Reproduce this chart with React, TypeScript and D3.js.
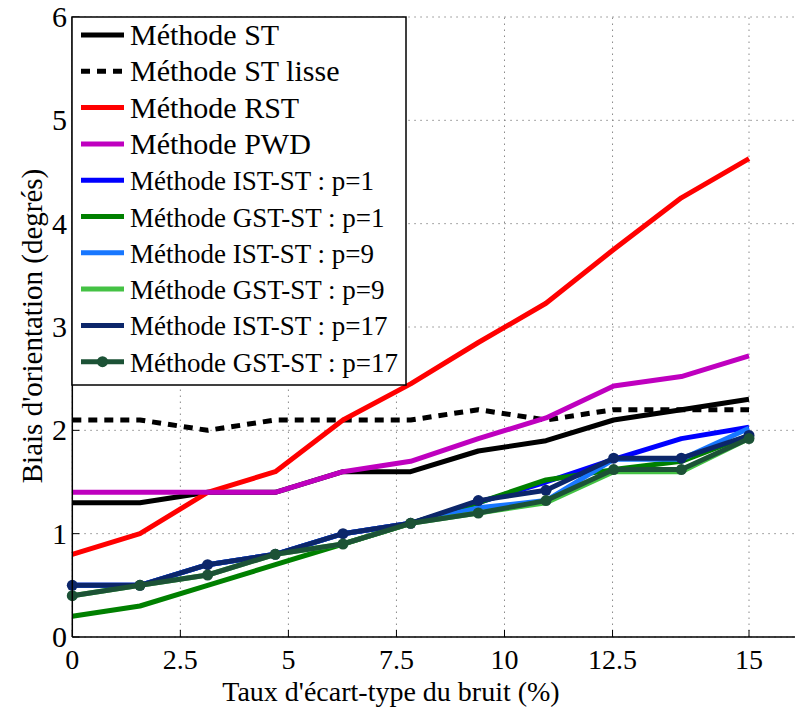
import React from "react";
import * as d3 from "d3";

const noiseLevels = [0, 1.5, 3, 4.5, 6, 7.5, 9, 10.5, 12, 13.5, 15];

const seriesNames = [
  "Méthode ST",
  "Méthode ST lisse",
  "Méthode RST",
  "Méthode PWD",
  "Méthode IST-ST : p=1",
  "Méthode GST-ST : p=1",
  "Méthode IST-ST : p=9",
  "Méthode GST-ST : p=9",
  "Méthode IST-ST : p=17",
  "Méthode GST-ST : p=17",
];

const stValues = [1.3, 1.3, 1.4, 1.4, 1.6, 1.6, 1.8, 1.9, 2.1, 2.2, 2.3];
const stLisseValues = [2.1, 2.1, 2.0, 2.1, 2.1, 2.1, 2.2, 2.1, 2.2, 2.2, 2.2];
const rstValues = [0.8, 1.0, 1.4, 1.6, 2.1, 2.45, 2.85, 3.23, 3.75, 4.25, 4.63];
const pwdValues = [1.4, 1.4, 1.4, 1.4, 1.6, 1.7, 1.92, 2.12, 2.43, 2.52, 2.72];
const istP1Values = [0.5, 0.5, 0.7, 0.8, 1.0, 1.1, 1.3, 1.5, 1.72, 1.92, 2.03];
const gstP1Values = [0.2, 0.3, 0.5, 0.7, 0.9, 1.1, 1.3, 1.52, 1.62, 1.7, 1.95];
const istP9Values = [0.5, 0.5, 0.7, 0.8, 1.0, 1.1, 1.25, 1.32, 1.72, 1.72, 2.02];
const gstP9Values = [0.4, 0.5, 0.6, 0.8, 0.9, 1.1, 1.2, 1.3, 1.6, 1.6, 1.92];
const istP17Values = [0.5, 0.5, 0.7, 0.8, 1.0, 1.1, 1.32, 1.42, 1.73, 1.73, 1.95];
const gstP17Values = [0.4, 0.5, 0.6, 0.8, 0.9, 1.1, 1.2, 1.32, 1.62, 1.62, 1.92];

const xTickValues = [0, 2.395, 4.79, 7.185, 9.58, 11.975, 15];
const xTickLabels = ["0", "2.5", "5", "7.5", "10", "12.5", "15"];
const yTickValues = [0, 1, 2, 3, 4, 5, 6];

const xTitle = "Taux d'écart-type du bruit (%)";
const yTitle = "Biais d'orientation (degrés)";

const styles = [
  { color: "#000000", dash: null, marker: false },
  { color: "#000000", dash: "9,7", marker: false },
  { color: "#ff0000", dash: null, marker: false },
  { color: "#bf00bf", dash: null, marker: false },
  { color: "#0000ff", dash: null, marker: false },
  { color: "#008000", dash: null, marker: false },
  { color: "#1877ff", dash: null, marker: false },
  { color: "#44c244", dash: null, marker: false },
  { color: "#0c266a", dash: null, marker: true },
  { color: "#1c5236", dash: null, marker: true },
];

const allValues = [
  stValues,
  stLisseValues,
  rstValues,
  pwdValues,
  istP1Values,
  gstP1Values,
  istP9Values,
  gstP9Values,
  istP17Values,
  gstP17Values,
];

const FONT =
  '"Liberation Serif", "LiberationSerif", "DejaVu Serif", "DejaVuSerif", "Times New Roman", Times, "Nimbus Roman", "FreeSerif", "Noto Serif", serif';
const tStyle = { fontFamily: FONT };

export default function App() {
  const W = 795;
  const H = 708;
  const x = d3.scaleLinear().domain([0, 15]).range([72.3, 749]);
  const y = d3.scaleLinear().domain([0, 6]).range([637, 17]);
  const axisRight = 795;

  const line = d3
    .line<number>()
    .x((_, i) => x(noiseLevels[i]))
    .y((d) => y(d));

  const legendX0 = 72;
  const legendY0 = 17;
  const legendW = 334;
  const legendH = 368;
  const rowY = (k: number) => 35 + 36.3 * k;

  return (
    <svg
      width={W}
      height={H}
      style={{ position: "absolute", left: 0, top: 0, background: "#fff", fontFamily: FONT }}
    >
      <rect x={0} y={0} width={W} height={H} fill="#fff" />
      {yTickValues.map((v) => (
        <line
          key={"gy" + v}
          x1={x(0)}
          x2={axisRight}
          y1={y(v)}
          y2={y(v)}
          stroke="#8a8a8a"
          strokeWidth={1}
          strokeDasharray="1.5,4.5"
        />
      ))}
      {xTickValues.map((v) => (
        <line
          key={"gx" + v}
          x1={x(v)}
          x2={x(v)}
          y1={y(0)}
          y2={y(6)}
          stroke="#8a8a8a"
          strokeWidth={1}
          strokeDasharray="1.5,4.5"
        />
      ))}
      {allValues.map((vals, k) => (
        <g key={"s" + k}>
          <path
            d={line(vals) || ""}
            fill="none"
            stroke={styles[k].color}
            strokeWidth={5}
            strokeDasharray={styles[k].dash || undefined}
            strokeLinejoin="round"
          />
          {styles[k].marker &&
            vals.map((v, i) => (
              <circle
                key={i}
                cx={x(noiseLevels[i])}
                cy={y(v)}
                r={5.5}
                fill={styles[k].color}
              />
            ))}
        </g>
      ))}
      <line x1={x(0)} x2={axisRight} y1={y(0)} y2={y(0)} stroke="#000" strokeWidth={1.5} />
      <line x1={x(0)} x2={x(0)} y1={y(0)} y2={y(6)} stroke="#000" strokeWidth={1.5} />
      {xTickValues.map((v, i) => (
        <g key={"xt" + i}>
          <line x1={x(v)} x2={x(v)} y1={y(0)} y2={y(0) - 7} stroke="#000" strokeWidth={1} />
          <text x={x(v)} y={669} fontSize={28} textAnchor="middle" fill="#000" style={tStyle}>
            {xTickLabels[i]}
          </text>
        </g>
      ))}
      {yTickValues.map((v) => (
        <g key={"yt" + v}>
          <line x1={x(0)} x2={x(0) + 7} y1={y(v)} y2={y(v)} stroke="#000" strokeWidth={1} />
          <text x={67} y={y(v) + 10} fontSize={30} textAnchor="end" fill="#000" style={tStyle}>
            {v}
          </text>
        </g>
      ))}
      <text x={391} y={701} fontSize={28} textAnchor="middle" fill="#000" style={tStyle}>
        {xTitle}
      </text>
      <text
        transform={`translate(42,326) rotate(-90)`}
        fontSize={29}
        textAnchor="middle"
        fill="#000"
        style={tStyle}
      >
        {yTitle}
      </text>
      <rect
        x={legendX0}
        y={legendY0}
        width={legendW}
        height={legendH}
        fill="#fff"
        stroke="#000"
        strokeWidth={1.5}
      />
      {seriesNames.map((name, k) => (
        <g key={"lg" + k}>
          <line
            x1={81}
            x2={124}
            y1={rowY(k)}
            y2={rowY(k)}
            stroke={styles[k].color}
            strokeWidth={5}
            strokeDasharray={styles[k].dash || undefined}
          />
          {styles[k].marker && k === 9 && (
            <circle cx={102.5} cy={rowY(k)} r={5.5} fill={styles[k].color} />
          )}
          <text
            x={130}
            y={rowY(k) + 10}
            fontSize={k < 4 ? 30 : 27}
            fill="#000"
            style={tStyle}
          >
            {name}
          </text>
        </g>
      ))}
    </svg>
  );
}
